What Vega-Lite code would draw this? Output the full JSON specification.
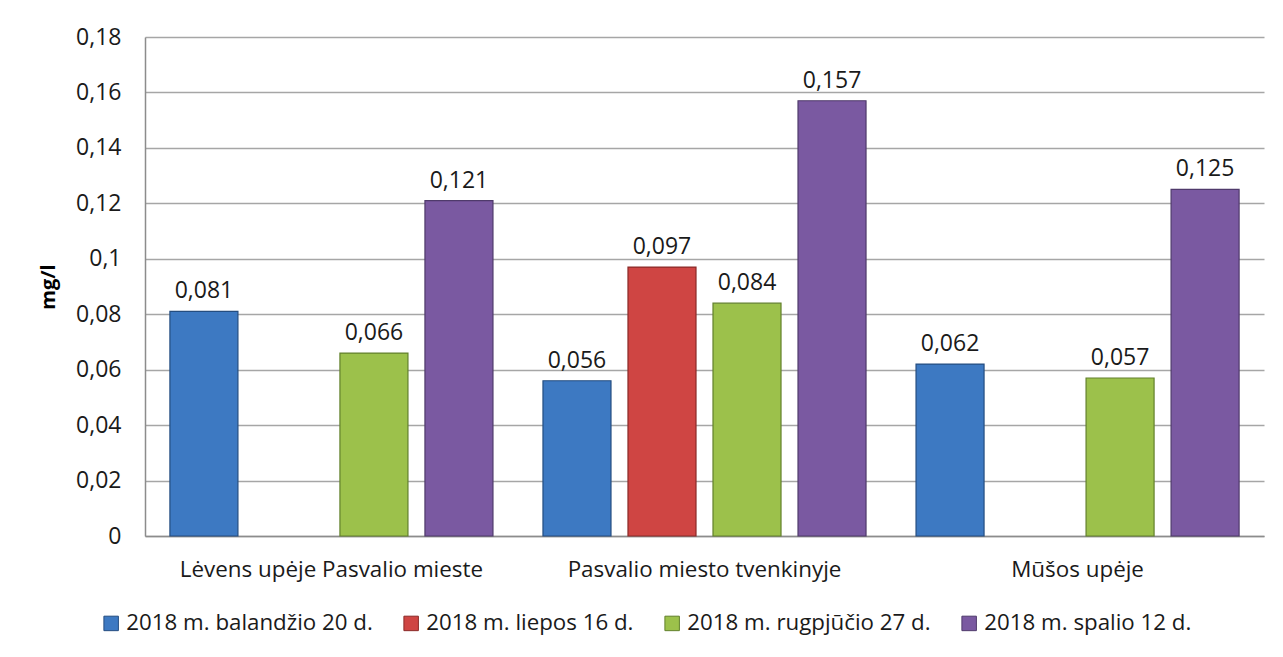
{
  "$schema": "https://vega.github.io/schema/vega-lite/v6.json",
  "autosize": {"type": "none"},
  "width": 1119,
  "height": 499,
  "padding": {"left": 145, "top": 37, "right": 19, "bottom": 121},
  "background": "white",
  "config": {
    "locale": {"number": {"decimal": ",", "thousands": " ", "grouping": [3], "currency": ["", " €"]}},
    "font": "Open Sans",
    "view": {"stroke": null},
    "axis": {"labelFont": "Open Sans", "labelFontSize": 23, "labelLimit": 0, "labelColor": "#1a1a1a", "titleFont": "Open Sans", "titleColor": "#000000"},
    "legend": {"labelFont": "Open Sans", "labelFontSize": 22.3, "labelLimit": 0, "labelColor": "#1a1a1a"}
  },
  "data": {
    "values": [
      {"vieta": "Lėvens upėje Pasvalio mieste", "data": "2018 m. balandžio 20 d.", "v": 0.081},
      {"vieta": "Lėvens upėje Pasvalio mieste", "data": "2018 m. rugpjūčio 27 d.", "v": 0.066},
      {"vieta": "Lėvens upėje Pasvalio mieste", "data": "2018 m. spalio 12 d.", "v": 0.121},
      {"vieta": "Pasvalio miesto tvenkinyje", "data": "2018 m. balandžio 20 d.", "v": 0.056},
      {"vieta": "Pasvalio miesto tvenkinyje", "data": "2018 m. liepos 16 d.", "v": 0.097},
      {"vieta": "Pasvalio miesto tvenkinyje", "data": "2018 m. rugpjūčio 27 d.", "v": 0.084},
      {"vieta": "Pasvalio miesto tvenkinyje", "data": "2018 m. spalio 12 d.", "v": 0.157},
      {"vieta": "Mūšos upėje", "data": "2018 m. balandžio 20 d.", "v": 0.062},
      {"vieta": "Mūšos upėje", "data": "2018 m. rugpjūčio 27 d.", "v": 0.057},
      {"vieta": "Mūšos upėje", "data": "2018 m. spalio 12 d.", "v": 0.125}
    ]
  },
  "encoding": {
    "x": {
      "field": "vieta", "type": "nominal", "sort": null,
      "scale": {"domain": ["Lėvens upėje Pasvalio mieste", "Pasvalio miesto tvenkinyje", "Mūšos upėje"], "paddingInner": 0.0885, "paddingOuter": 0.044},
      "axis": {"title": null, "labelAngle": 0, "ticks": false, "labelPadding": 22, "labelFontSize": 22.4, "domainColor": "#8c8c8c", "domainWidth": 1.5, "grid": false}
    },
    "xOffset": {
      "field": "data", "type": "nominal",
      "scale": {"domain": ["2018 m. balandžio 20 d.", "2018 m. liepos 16 d.", "2018 m. rugpjūčio 27 d.", "2018 m. spalio 12 d."], "paddingInner": 0.2, "paddingOuter": 0.1}
    },
    "y": {
      "field": "v", "type": "quantitative",
      "scale": {"domain": [0, 0.18], "nice": false},
      "axis": {"title": "mg/l", "titleFontWeight": "bold", "titleFontSize": 20, "titlePadding": 17, "values": [0, 0.02, 0.04, 0.06, 0.08, 0.1, 0.12, 0.14, 0.16, 0.18], "format": ".2~f", "ticks": false, "labelPadding": 24, "gridColor": "#a6a6a6", "gridWidth": 1.5, "domainColor": "#8c8c8c", "domainWidth": 1.5}
    }
  },
  "layer": [
    {
      "mark": {"type": "bar", "strokeWidth": 1.2},
      "encoding": {
        "fill": {
          "field": "data", "type": "nominal",
          "scale": {"domain": ["2018 m. balandžio 20 d.", "2018 m. liepos 16 d.", "2018 m. rugpjūčio 27 d.", "2018 m. spalio 12 d."], "range": ["#3D79C2", "#CF4543", "#9CC14B", "#7A59A1"]},
          "legend": {"title": null, "orient": "none", "legendX": -45, "legendY": 575, "direction": "horizontal", "symbolType": "square", "symbolSize": 210, "symbolStrokeWidth": 1, "columnPadding": 27, "labelOffset": 4}
        },
        "stroke": {
          "field": "data", "type": "nominal",
          "scale": {"domain": ["2018 m. balandžio 20 d.", "2018 m. liepos 16 d.", "2018 m. rugpjūčio 27 d.", "2018 m. spalio 12 d."], "range": ["#244d80", "#8a2a28", "#62802c", "#4f3a6b"]},
          "legend": {"title": null, "orient": "none", "legendX": -45, "legendY": 575, "direction": "horizontal", "symbolType": "square", "symbolSize": 210, "symbolStrokeWidth": 1, "columnPadding": 27, "labelOffset": 4}
        }
      }
    },
    {
      "mark": {"type": "text", "baseline": "bottom", "dy": -8, "fontSize": 23, "color": "#1a1a1a", "font": "Open Sans"},
      "encoding": {"text": {"field": "v", "type": "quantitative", "format": ".3f"}}
    }
  ]
}
